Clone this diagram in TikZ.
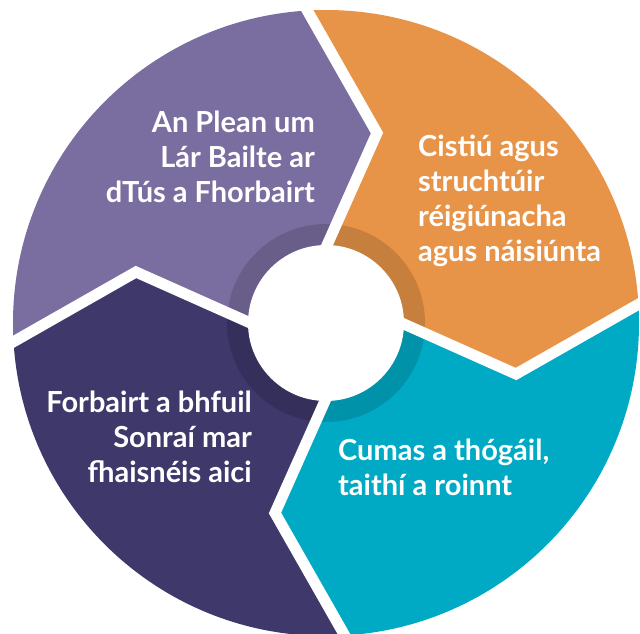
\documentclass[tikz,border=0pt]{standalone}
\usepackage{fontspec}
\setmainfont{Lato}
\usepackage{tikz}
\definecolor{plcPurple}{HTML}{7A6EA0}
\definecolor{plcOrange}{HTML}{E89448}
\definecolor{plcTeal}{HTML}{00AAC4}
\definecolor{plcNavy}{HTML}{3E396A}

\begin{document}
\begin{tikzpicture}[x=1pt, y=1pt,
  gap/.style={draw=white, line width=11pt, line join=miter},
  ring/.style={fill=black, fill opacity=0.14},
  label/.style={inner sep=0pt, text=white, font=\fontsize{29}{35}\selectfont\bfseries}
]
\useasboundingbox (-326,-310) rectangle (314,323);

% four sectors, each one the upper-left one turned
\begin{scope}
  \clip (0,0) circle (313);
  \foreach \col/\ang in {plcPurple/0, plcNavy/90, plcTeal/180, plcOrange/270}
    \fill[\col, rotate=\ang] (0,0) -- (-2.5,70) -- (51,190) -- (-23,320) -- (-400,400)
      -- (-320,-23) -- (-190,51) -- (-70,-2.5) -- cycle;
\end{scope}

\fill[ring] (0,0) circle (99);

\begin{scope}
  \clip (0,0) circle (320);
  \foreach \ang in {0,-90,-180,-270}
    \draw[gap, rotate=\ang] (-2.5,70) -- (51,190) -- (-23,320);
\end{scope}

\fill[white] (0,0) circle (78);

% base anchor sits on the last line
\node[label, anchor=base east, align=right] (plean) at (-11,121)
  {An Plean um\\Lár Bailte ar\\dTús a Fhorbairt};
\node[label, anchor=base west, align=left] (cistiu) at (92,62)
  {Cistiú agus\\struchtúir\\réigiúnacha\\agus náisiúnta};
\node[label, anchor=base east, align=right] (forbairt) at (-74,-159)
  {Forbairt a bhfuil\\Sonraí mar\\fhaisnéis aici};
\node[label, anchor=base west, align=left] (cumas) at (12,-172)
  {Cumas a thógáil,\\taithí a roinnt};

\end{tikzpicture}
\end{document}
